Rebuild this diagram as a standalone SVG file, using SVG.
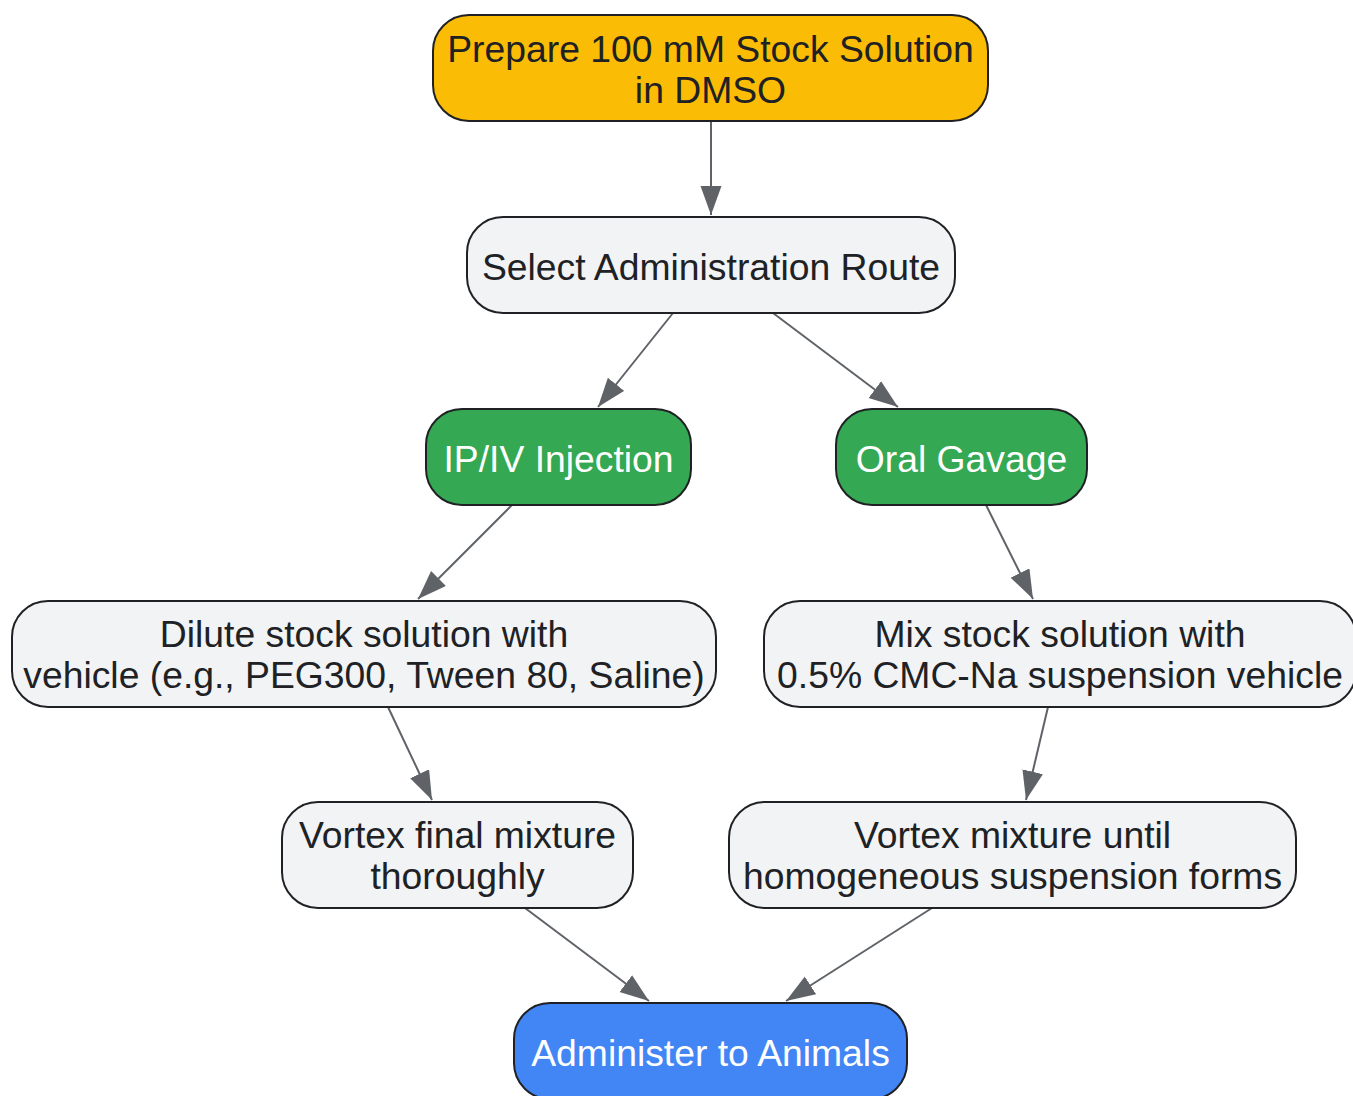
<svg xmlns="http://www.w3.org/2000/svg" width="1353" height="1096" viewBox="0 0 1353 1096">
<style>
.n{stroke:#202124;stroke-width:2}
.g{fill:#F1F3F4}
.t{font-family:"Liberation Sans",Arial,sans-serif;font-size:37.3px;text-anchor:middle;fill:#202124}
.w{fill:#FFFFFF}
.e{stroke:#5F6368;stroke-width:2;fill:none;marker-end:url(#ah)}
</style>
<defs>
<marker id="ah" markerUnits="userSpaceOnUse" markerWidth="32" markerHeight="22" refX="29" refY="10.5" orient="auto">
<path d="M0,0 L29,10.5 L0,21 z" fill="#5F6368"/>
</marker>
</defs>
<rect width="1353" height="1096" fill="#FFFFFF"/>
<g id="edges">
<line class="e" x1="711" y1="121" x2="711" y2="215"/>
<line class="e" x1="673" y1="313" x2="598" y2="407"/>
<line class="e" x1="773" y1="313" x2="898" y2="407"/>
<line class="e" x1="512" y1="505" x2="418" y2="599"/>
<line class="e" x1="986" y1="505" x2="1033" y2="599"/>
<line class="e" x1="388" y1="707" x2="432" y2="800"/>
<line class="e" x1="1048" y1="707" x2="1026" y2="800"/>
<line class="e" x1="525" y1="908" x2="649" y2="1001"/>
<line class="e" x1="932" y1="908" x2="786" y2="1001"/>
</g>
<g id="prepare">
<rect class="n" x="433" y="15" width="555" height="106" rx="36" fill="#FBBC05"/>
<text class="t" x="710.5" y="62">Prepare 100 mM Stock Solution</text>
<text class="t" x="710.5" y="103">in DMSO</text>
</g>
<g id="select">
<rect class="n g" x="467" y="217" width="488" height="96" rx="36"/>
<text class="t" x="711" y="280">Select Administration Route</text>
</g>
<g id="ipiv">
<rect class="n" x="426" y="409" width="265" height="96" rx="36" fill="#34A853"/>
<text class="t w" x="558.5" y="472">IP/IV Injection</text>
</g>
<g id="oral">
<rect class="n" x="836" y="409" width="251" height="96" rx="36" fill="#34A853"/>
<text class="t w" x="961.5" y="472">Oral Gavage</text>
</g>
<g id="dilute">
<rect class="n g" x="12" y="601" width="704" height="106" rx="36"/>
<text class="t" x="364" y="647">Dilute stock solution with</text>
<text class="t" x="364" y="688">vehicle (e.g., PEG300, Tween 80, Saline)</text>
</g>
<g id="mix">
<rect class="n g" x="764" y="601" width="592" height="106" rx="36"/>
<text class="t" x="1060" y="647">Mix stock solution with</text>
<text class="t" x="1060" y="688">0.5% CMC-Na suspension vehicle</text>
</g>
<g id="vortexfinal">
<rect class="n g" x="282" y="802" width="351" height="106" rx="36"/>
<text class="t" x="457.5" y="848">Vortex final mixture</text>
<text class="t" x="457.5" y="889">thoroughly</text>
</g>
<g id="vortexmix">
<rect class="n g" x="729" y="802" width="567" height="106" rx="36"/>
<text class="t" x="1012.5" y="848">Vortex mixture until</text>
<text class="t" x="1012.5" y="889">homogeneous suspension forms</text>
</g>
<g id="administer">
<rect class="n" x="514" y="1003" width="393" height="96" rx="36" fill="#4285F4"/>
<text class="t w" x="710.5" y="1066">Administer to Animals</text>
</g>
</svg>
